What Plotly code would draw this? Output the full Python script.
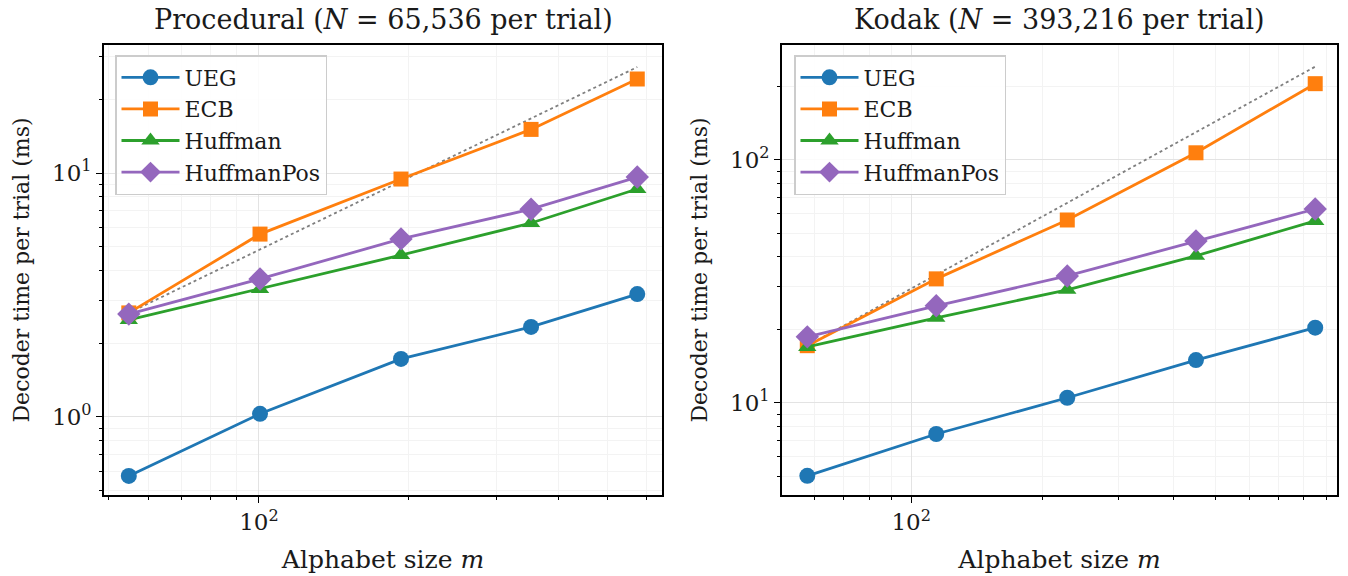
import plotly.graph_objects as go
from plotly.subplots import make_subplots

# ---- data ----
series_names = ["UEG", "ECB", "Huffman", "HuffmanPos"]

proc_m = [54.8, 100.5, 192.8, 351.7, 574.6]
proc_ueg = [0.573, 1.03, 1.73, 2.34, 3.19]
proc_ecb = [2.67, 5.62, 9.45, 15.1, 24.3]
proc_huffman = [2.50, 3.35, 4.61, 6.24, 8.6]
proc_huffmanpos = [2.64, 3.68, 5.37, 7.11, 9.63]
proc_ref_m = [54.8, 574.6]
proc_ref_t = [2.67, 27.2]

kodak_m = [57.7, 114.2, 228.5, 451.6, 849.0]
kodak_ueg = [5.01, 7.45, 10.5, 15.0, 20.4]
kodak_ecb = [17.2, 32.4, 56.6, 107.0, 206.0]
kodak_huffman = [17.0, 22.4, 29.2, 40.3, 56.1]
kodak_huffmanpos = [18.7, 25.1, 33.3, 46.4, 62.8]
kodak_ref_m = [57.7, 849.0]
kodak_ref_t = [17.2, 242.0]

colors = ["#1f77b4", "#ff7f0e", "#2ca02c", "#9467bd"]
symbols = ["circle", "square", "triangle-up", "diamond"]
msizes = [16, 15, 16, 18]

FONT = "DejaVu Serif"
TXT = "#1a1a1a"

fig = make_subplots(rows=1, cols=2, horizontal_spacing=0.0975)

panels = [
    (proc_m, [proc_ueg, proc_ecb, proc_huffman, proc_huffmanpos], proc_ref_m, proc_ref_t, "legend"),
    (kodak_m, [kodak_ueg, kodak_ecb, kodak_huffman, kodak_huffmanpos], kodak_ref_m, kodak_ref_t, "legend2"),
]

for ci, (m, ys, rm, rt, lg) in enumerate(panels, start=1):
    fig.add_trace(go.Scatter(x=rm, y=rt, mode="lines", showlegend=False,
                             line=dict(color="#7f7f7f", width=1.8, dash="dot"),
                             hoverinfo="skip"), row=1, col=ci)
    for i, name in enumerate(series_names):
        fig.add_trace(go.Scatter(
            x=m, y=ys[i], mode="lines+markers", name=name, legend=lg,
            line=dict(color=colors[i], width=2.8),
            marker=dict(symbol=symbols[i], size=msizes[i], color=colors[i],
                        line=dict(width=0))),
            row=1, col=ci)

axis_common = dict(type="log", showline=True, linecolor="black", linewidth=1.6,
                   mirror=True, ticks="outside", ticklen=6, tickwidth=1.3,
                   tickcolor="black", showgrid=True, gridcolor="#e3e3e3",
                   gridwidth=1, zeroline=False, automargin=False,
                   tickfont=dict(family=FONT, size=23, color=TXT))

def minor(vals):
    return dict(tickvals=vals, ticks="outside", ticklen=3.5, tickwidth=1.0,
                tickcolor="black", showgrid=True, gridcolor="#f3f3f3", gridwidth=1)

fig.update_xaxes(**axis_common)
fig.update_yaxes(**axis_common)

xt = dict(text="Alphabet size <i>m</i>", font=dict(family=FONT, size=25, color=TXT), standoff=16)
yt = dict(text="Decoder time per trial (ms)", font=dict(family=FONT, size=22, color=TXT), standoff=16)

fig.update_xaxes(range=[1.689, 2.809], tickvals=[100], ticktext=["10<sup>2</sup>"],
                 minor=minor([50, 60, 70, 80, 90, 200, 300, 400, 500, 600]),
                 title=xt, row=1, col=1)
fig.update_xaxes(range=[1.703, 2.979], tickvals=[100], ticktext=["10<sup>2</sup>"],
                 minor=minor([60, 70, 80, 90, 200, 300, 400, 500, 600, 700, 800, 900]),
                 title=xt, row=1, col=2)
fig.update_yaxes(range=[-0.32, 1.525], tickvals=[1, 10], ticktext=["10<sup>0</sup>", "10<sup>1</sup>"],
                 minor=minor([0.5, 0.6, 0.7, 0.8, 0.9, 2, 3, 4, 5, 6, 7, 8, 9, 20, 30]),
                 title=yt, row=1, col=1)
fig.update_yaxes(range=[0.621, 2.473], tickvals=[10, 100], ticktext=["10<sup>1</sup>", "10<sup>2</sup>"],
                 minor=minor([5, 6, 7, 8, 9, 20, 30, 40, 50, 60, 70, 80, 90, 200]),
                 title=yt, row=1, col=2)

W, H = 1348, 576
L, R, T, B = 104, 11, 45, 81
pw = W - L - R
ph = H - T - B
fig.update_layout(xaxis=dict(domain=[0, (662 - L) / pw]),
                  xaxis2=dict(domain=[(782 - L) / pw, 1]))

legend_common = dict(font=dict(family=FONT, size=22, color=TXT),
                     bgcolor="rgba(255,255,255,0.85)", bordercolor="#cccccc",
                     borderwidth=1.5, xanchor="left", yanchor="top",
                     itemwidth=58, tracegroupgap=0)

def px_x(px):
    return (px - L) / pw

def px_y(py):
    return (H - B - py) / ph

fig.update_layout(
    width=W, height=H,
    margin=dict(l=L, r=R, t=T, b=B, autoexpand=False),
    paper_bgcolor="white", plot_bgcolor="white",
    font=dict(family=FONT, color=TXT),
    legend=dict(x=px_x(115), y=px_y(55), **legend_common),
    legend2=dict(x=px_x(794), y=px_y(55), **legend_common),
    annotations=[
        dict(text="Procedural (<i>N</i> = 65,536 per trial)", x=px_x((104 + 662) / 2), y=px_y(20),
             xref="paper", yref="paper", showarrow=False, xanchor="center", yanchor="middle",
             font=dict(family=FONT, size=27, color=TXT)),
        dict(text="Kodak (<i>N</i> = 393,216 per trial)", x=px_x((782 + 1337) / 2), y=px_y(20),
             xref="paper", yref="paper", showarrow=False, xanchor="center", yanchor="middle",
             font=dict(family=FONT, size=27, color=TXT)),
    ],
)

fig.write_html("out.html")
